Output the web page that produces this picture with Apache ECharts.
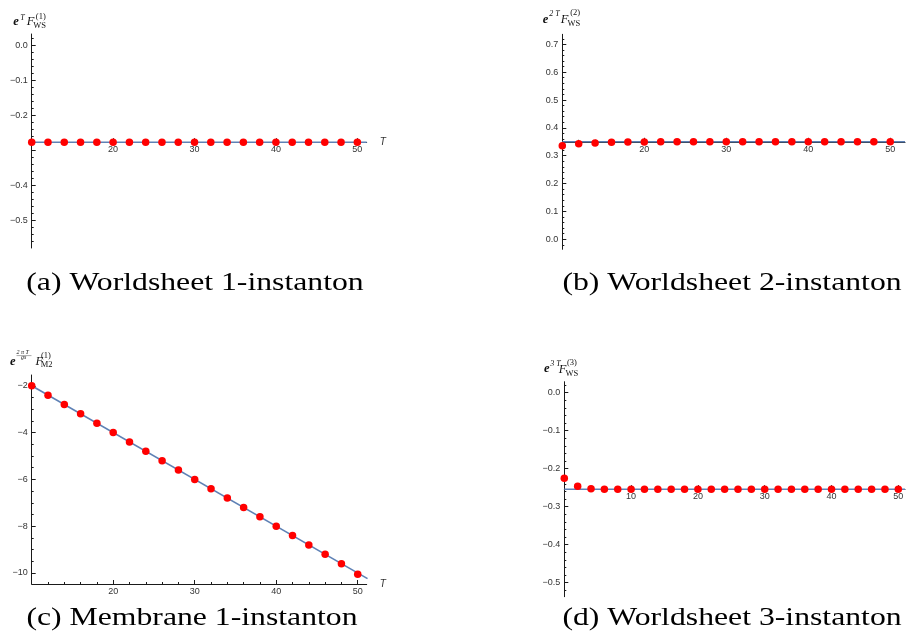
<!DOCTYPE html>
<html>
<head>
<meta charset="utf-8">
<script src="https://cdn.jsdelivr.net/npm/echarts@6/dist/echarts.min.js"></script>
<style>
html,body{margin:0;padding:0;background:#fff;}
#c{width:913px;height:642px;}
</style>
</head>
<body>
<div id="c"></div>
<script>
// ---------------- data ----------------
const T_abc = [10,12,14,16,18,20,22,24,26,28,30,32,34,36,38,40,42,44,46,48,50];
const T_d = [0,2,4,6,8,10,12,14,16,18,20,22,24,26,28,30,32,34,36,38,40,42,44,46,48,50];

const valsA = [-0.276,-0.276,-0.276,-0.276,-0.276,-0.276,-0.276,-0.276,-0.276,-0.276,-0.276,
               -0.276,-0.276,-0.276,-0.276,-0.276,-0.276,-0.276,-0.276,-0.276,-0.276];
const valsB = [0.336,0.343,0.346,0.348,0.349,0.349,0.350,0.350,0.350,0.350,0.350,
               0.350,0.350,0.350,0.350,0.350,0.350,0.350,0.350,0.350,0.350];
const valsC = [-2.0,-2.4,-2.8,-3.2,-3.6,-4.0,-4.4,-4.8,-5.2,-5.6,-6.0,
               -6.4,-6.8,-7.2,-7.6,-8.0,-8.4,-8.8,-9.2,-9.6,-10.05];
const valsD = [-0.225,-0.246,-0.2526,-0.254,-0.254,-0.254,-0.254,-0.254,-0.254,-0.254,-0.254,-0.254,-0.254,
               -0.254,-0.254,-0.254,-0.254,-0.254,-0.254,-0.254,-0.254,-0.254,-0.254,-0.254,-0.254,-0.254];

// fitted / asymptotic lines (endpoints)
const fitA = [[10,-0.276],[51.15,-0.276]];
const fitB = [[10,0.350],[51.8,0.350]];
const fitC = [[10,-2.0],[51.2,-10.24]];
const fitD = [[0,-0.254],[51.0,-0.254]];

// axis crossing values (where the T axis sits)
const crossA = -0.276, crossB = 0.350, crossC = -10.47, crossD = -0.254;

// tick values
const xMajorABC = [20,30,40,50];
const xMajorD = [10,20,30,40,50];
const yMajorA = [0,-0.1,-0.2,-0.3,-0.4,-0.5];
const yLabelsA = [0,-0.1,-0.2,-0.4,-0.5];
const yMajorB = [0,0.1,0.2,0.3,0.4,0.5,0.6,0.7];
const yLabelsB = [0,0.1,0.2,0.3,0.4,0.5,0.6,0.7];
const yMajorC = [-2,-4,-6,-8,-10];
const yLabelsC = [-2,-4,-6,-8,-10];
const yMajorD = [0,-0.1,-0.2,-0.3,-0.4,-0.5];
const yLabelsD = [0,-0.1,-0.2,-0.3,-0.4,-0.5];

const captions = ['(a) Worldsheet 1-instanton','(b) Worldsheet 2-instanton',
                  '(c) Membrane 1-instanton','(d) Worldsheet 3-instanton'];

// ---------------- layout helpers ----------------
function minorTicks(min, max, step, majors){
  const out = [];
  const k0 = Math.ceil(min/step - 1e-9), k1 = Math.floor(max/step + 1e-9);
  for (let k=k0;k<=k1;k++){
    const v = Math.round(k*step*10000)/10000;
    if (!majors.some(m => Math.abs(m-v) < 1e-9)) out.push(v);
  }
  return out;
}
const fmt1 = v => (v < 0 ? '\u2212' : '') + Math.abs(v).toFixed(1);
const fmt0 = v => (v < 0 ? '\u2212' : '') + Math.abs(v).toFixed(0);

const panels = [
  {grid:{left:31.7, top:34, width:335, height:214}, xMin:10, xMax:51.15, yMin:-0.578, yMax:0.033, cross:crossA,
   xMajor:xMajorABC, xMinorStep:2, yMajor:yMajorA, yLabels:yLabelsA, yMinorStep:0.02, fmt:fmt1,
   T:T_abc, vals:valsA, fit:fitA, showT:true},
  {grid:{left:562.3, top:34.3, width:342.7, height:215}, xMin:10, xMax:51.8, yMin:-0.036, yMax:0.736, cross:crossB,
   xMajor:xMajorABC, xMinorStep:2, yMajor:yMajorB, yLabels:yLabelsB, yMinorStep:0.02, fmt:fmt1,
   T:T_abc, vals:valsB, fit:fitB, showT:false},
  {grid:{left:31.7, top:375, width:335, height:209}, xMin:10, xMax:51.1, yMin:-10.47, yMax:-1.54, cross:crossC,
   xMajor:xMajorABC, xMinorStep:2, yMajor:yMajorC, yLabels:yLabelsC, yMinorStep:0.5, fmt:fmt0,
   T:T_abc, vals:valsC, fit:fitC, showT:true},
  {grid:{left:564.3, top:381.7, width:340.7, height:215}, xMin:0, xMax:51.0, yMin:-0.537, yMax:0.029, cross:crossD,
   xMajor:xMajorD, xMinorStep:2, yMajor:yMajorD, yLabels:yLabelsD, yMinorStep:0.02, fmt:fmt1,
   T:T_d, vals:valsD, fit:fitD, showT:false}
];

const AX = '#1a1a1a', LAB = '#333';
const grids=[], xAxes=[], yAxes=[], series=[];
panels.forEach((p,i)=>{
  grids.push(p.grid);
  p.yMainIdx = yAxes.length;
  yAxes.push({type:'value', gridIndex:i, min:p.yMin, max:p.yMax, position:'left',
    axisLine:{show:true, onZero:false, lineStyle:{color:AX, width:1}},
    axisTick:{show:true, inside:true, length:4, customValues:p.yMajor, lineStyle:{color:AX, width:1}},
    axisLabel:{show:true, customValues:p.yLabels, formatter:p.fmt, fontSize:9, color:LAB,
               fontFamily:'Liberation Sans', margin:4},
    splitLine:{show:false}});
  yAxes.push({type:'value', gridIndex:i, min:p.yMin, max:p.yMax, position:'left',
    axisLine:{show:false, onZero:false},
    axisTick:{show:true, inside:true, length:2, customValues:minorTicks(p.yMin,p.yMax,p.yMinorStep,p.yMajor),
              lineStyle:{color:AX, width:1}},
    axisLabel:{show:false}, splitLine:{show:false}});
  p.xMainIdx = xAxes.length;
  xAxes.push({type:'value', gridIndex:i, min:p.xMin, max:p.xMax, position:'bottom', offset:0,
    axisLine:{show:true, onZero:false, lineStyle:{color:AX, width:1}},
    axisTick:{show:true, inside:true, length:4, customValues:p.xMajor, lineStyle:{color:AX, width:1}},
    axisLabel:{show:true, customValues:p.xMajor, formatter:fmt0, fontSize:9, color:LAB,
               fontFamily:'Liberation Sans', margin:3},
    splitLine:{show:false},
    name:p.showT?'T':'', nameLocation:'end', nameGap:13,
    nameTextStyle:{fontFamily:'Liberation Sans', fontStyle:'italic', fontSize:10, color:LAB, verticalAlign:'middle'}});
  xAxes.push({type:'value', gridIndex:i, min:p.xMin, max:p.xMax, position:'bottom', offset:0,
    axisLine:{show:false, onZero:false},
    axisTick:{show:true, inside:true, length:2, customValues:minorTicks(p.xMin,p.xMax,p.xMinorStep,p.xMajor),
              lineStyle:{color:AX, width:1}},
    axisLabel:{show:false}, splitLine:{show:false}});
  series.push({type:'line', xAxisIndex:p.xMainIdx, yAxisIndex:p.yMainIdx, data:p.fit, showSymbol:false,
    lineStyle:{color:'#5E81B5', width:1.6}, z:3, clip:true, silent:true});
  series.push({type:'scatter', xAxisIndex:p.xMainIdx, yAxisIndex:p.yMainIdx,
    data:p.T.map((t,k)=>[t,p.vals[k]]), symbolSize:7.5, itemStyle:{color:'#ff0000', opacity:1},
    z:4, clip:false, silent:true});
});

// ---------------- axis names (math-like) & captions ----------------
function tx(text, x, base, fs, style, weight){
  return {type:'text', x:x, y:base-0.3*fs, silent:true,
    style:{text:text, fontFamily:'Liberation Serif', fontSize:fs, fontStyle:style||'normal',
           fontWeight:weight||'normal', fill:'#111', align:'left', verticalAlign:'middle'}};
}
const graphics = [
  tx('e',13.3,25.5,12.5,'italic','bold'), tx('T',20.3,20,8,'italic'),
  tx('F',26.8,25.5,12.5,'italic'), tx('WS',33.3,28.6,8.5), tx('(1)',35.8,19.8,8.5),
  tx('e',542.7,23.3,12.5,'italic','bold'), tx('2 T',549.3,16.2,8,'italic'),
  tx('F',560.8,23.3,12.5,'italic'), tx('WS',567.6,26.3,8.5), tx('(2)',570.2,15.8,8.5),
  tx('e',10,365.3,12.5,'italic','bold'), tx('2 \u03c0 T',16.5,354.2,6,'italic'),
  {type:'line', silent:true, shape:{x1:16.5,y1:355.6,x2:31.5,y2:355.6}, style:{stroke:'#555', lineWidth:0.5}},
  tx('gs',21,359.2,6,'italic'),
  tx('F',35.5,365.3,12.5,'italic'), tx('M2',40.7,367.6,8.5), tx('(1)',40.9,358.8,8.5),
  tx('e',544,373,12.5,'italic','bold'), tx('3 T',550.2,366,8,'italic'),
  tx('F',558.8,373,12.5,'italic'), tx('WS',565.5,376,8.5), tx('(3)',567,365.6,8.5)
];
const capPos = [[195,283],[732,283],[192,618],[732,618]];
captions.forEach((c,i)=>{
  graphics.push({type:'text', x:capPos[i][0], y:capPos[i][1], scaleX:1.22, silent:true,
    style:{text:c, fontFamily:'Liberation Serif', fontSize:26, fill:'#000', align:'center', verticalAlign:'middle'}});
});

const chart = echarts.init(document.getElementById('c'), null, {renderer:'canvas'});
chart.setOption({
  animation:false,
  backgroundColor:'#fff',
  grid:grids, xAxis:xAxes, yAxis:yAxes, series:series,
  graphic:graphics
});

// move each T axis up so that it crosses the vertical axis at the crossing value
const xUpd = xAxes.map(()=>({}));
panels.forEach(p=>{
  const yc = chart.convertToPixel({yAxisIndex:p.yMainIdx}, p.cross);
  const yb = chart.convertToPixel({yAxisIndex:p.yMainIdx}, p.yMin);
  const off = yc - yb;
  xUpd[p.xMainIdx] = {offset:off};
  xUpd[p.xMainIdx+1] = {offset:off};
});
chart.setOption({xAxis:xUpd});
</script>
</body>
</html>
